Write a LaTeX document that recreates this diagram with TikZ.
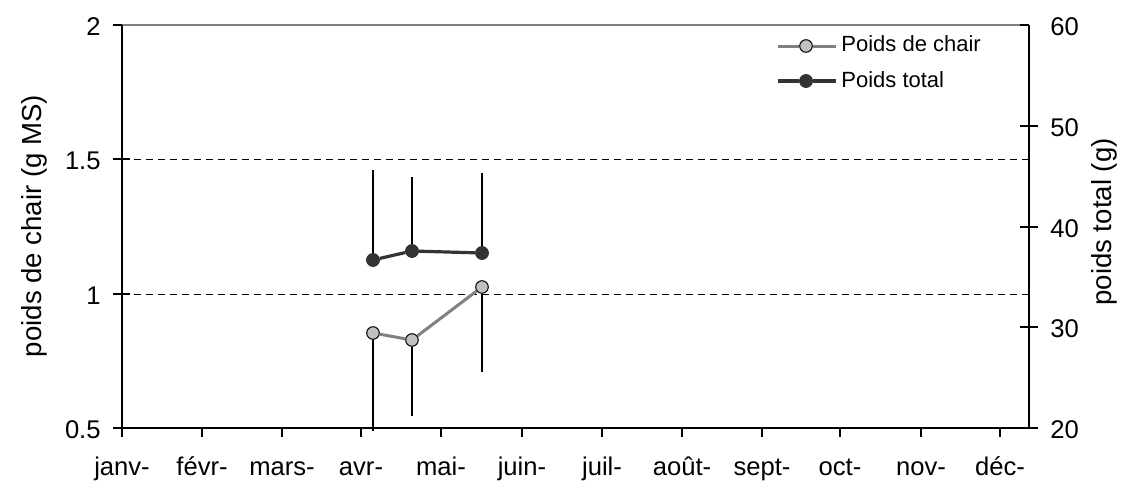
\documentclass[tikz,border=0pt]{standalone}
\usepackage{fontspec}
\setmainfont{Liberation Sans}
\definecolor{grischair}{HTML}{808080}
\definecolor{fondchair}{HTML}{C0C0C0}
\definecolor{gristotal}{HTML}{333333}

\begin{document}
\begin{tikzpicture}[x=0.5pt, y=-0.5pt]
 \tikzstyle{axe}=[black, line width=0.75pt]
 \tikzstyle{grille}=[black, line width=0.5pt, dash pattern=on 3.5pt off 2.5pt]
 \tikzstyle{barre}=[black, line width=0.8pt]
 \tikzstyle{lchair}=[grischair, line width=1.5pt]
 \tikzstyle{ltotal}=[gristotal, line width=1.6pt]
 \tikzstyle{pchair}=[circle, draw=black, fill=fondchair, line width=0.5pt, inner sep=0pt, minimum size=6.3pt]
 \tikzstyle{ptotal}=[circle, draw=gristotal, fill=gristotal, inner sep=0pt, minimum size=6.5pt]
 \tikzstyle{gradg}=[font=\fontsize{12.8}{15}\selectfont, inner sep=0pt, anchor=east]
 \tikzstyle{gradd}=[font=\fontsize{12.8}{15}\selectfont, inner sep=0pt, anchor=west]
 \tikzstyle{mois}=[font=\fontsize{12.8}{15}\selectfont, inner sep=0pt, anchor=base]
 \tikzstyle{titre}=[font=\fontsize{13.8}{16}\selectfont, inner sep=0pt, rotate=90, anchor=base]
 \tikzstyle{legende}=[font=\fontsize{11}{13}\selectfont, inner sep=0pt, anchor=base west]
 %
 \useasboundingbox (0,0) rectangle (1121,487);
 %
 \draw[grille] (122,159)--(1029,159);
 \draw[grille] (122,294)--(1029,294);
 \draw[grischair, line width=0.6pt] (122,25)--(1029,25);
 \draw[axe] (122,25)--(122,428)--(1029,428)--(1029,25);
 %
 \draw[axe] (113,25)--(122,25) (113,159)--(130,159) (113,294)--(130,294) (113,428)--(122,428);
 \draw[axe] (1020,25)--(1029,25) (1020,126)--(1038,126) (1020,227)--(1038,227) (1020,327)--(1038,327) (1029,428)--(1038,428);
 \draw[axe] (122,428)--(122,437) (202,428)--(202,437) (282,428)--(282,437) (361,428)--(361,437)
  (441,428)--(441,437) (522,428)--(522,437) (602,428)--(602,437) (682,428)--(682,437)
  (762,428)--(762,437) (840,428)--(840,437) (921,428)--(921,437) (1000,428)--(1000,437);
 %
 \node[gradg] (g2) at (101,27) {2};
 \node[gradg] (g15) at (101,161) {1.5};
 \node[gradg] (g1) at (101,296) {1};
 \node[gradg] (g05) at (101,430) {0.5};
 %
 \node[gradd] (d60) at (1050,27) {60};
 \node[gradd] (d50) at (1050,128) {50};
 \node[gradd] (d40) at (1050,229) {40};
 \node[gradd] (d30) at (1050,329) {30};
 \node[gradd] (d20) at (1050,430) {20};
 %
 \node[mois] (janv) at (122,475) {janv-};
 \node[mois] (fevr) at (202,475) {févr-};
 \node[mois] (mars) at (282,475) {mars-};
 \node[mois] (avr) at (361,475) {avr-};
 \node[mois] (mai) at (441,475) {mai-};
 \node[mois] (juin) at (522,475) {juin-};
 \node[mois] (juil) at (602,475) {juil-};
 \node[mois] (aout) at (682,475) {août-};
 \node[mois] (sept) at (762,475) {sept-};
 \node[mois] (oct) at (840,475) {oct-};
 \node[mois] (nov) at (921,475) {nov-};
 \node[mois] (dec) at (1000,475) {déc-};
 %
 \node[titre] (tchair) at (41,226) {poids de chair (g MS)};
 \node[titre] (ttotal) at (1111,222) {poids total (g)};
 %%
 \node[ptotal] (t1) at (373,260) {};
 \node[ptotal] (t2) at (412,251) {};
 \node[ptotal] (t3) at (482,253) {};
 \node[pchair] (c1) at (373,333) {};
 \node[pchair] (c2) at (412,340) {};
 \node[pchair] (c3) at (482,287) {};
 \coordinate (t1h) at (373,170);
 \coordinate (t2h) at (412,177);
 \coordinate (t3h) at (482,173);
 \coordinate (c1b) at (373,431);
 \coordinate (c2b) at (412,416);
 \coordinate (c3b) at (482,372);
 %
 \draw[barre] (t1)--(t1h);
 \draw[barre] (t2)--(t2h);
 \draw[barre] (t3)--(t3h);
 \draw[barre] (c1)--(c1b);
 \draw[barre] (c2)--(c2b);
 \draw[barre] (c3)--(c3b);
 \draw[ltotal] (t1)--(t2)--(t3);
 \draw[lchair] (c1)--(c2)--(c3);
 %%
 \node[pchair] (lc) at (806,46) {};
 \node[ptotal] (lt) at (806,81) {};
 \coordinate (lca) at (778,46);
 \coordinate (lcb) at (836,46);
 \coordinate (lta) at (778,81);
 \coordinate (ltb) at (836,81);
 \draw[lchair] (lca)--(lc);
 \draw[lchair] (lc)--(lcb);
 \draw[ltotal] (lta)--(lt);
 \draw[ltotal] (lt)--(ltb);
 \node[legende] (tlc) at (841,52) {Poids de chair};
 \node[legende] (tlt) at (841,87) {Poids total};
\end{tikzpicture}
\end{document}
